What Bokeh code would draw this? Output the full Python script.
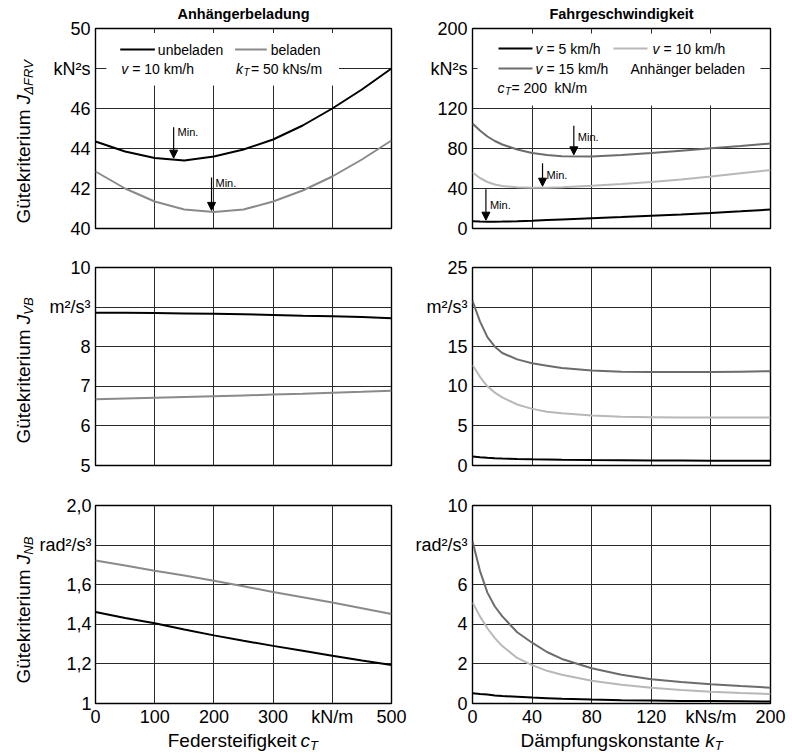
import numpy as np
from bokeh.plotting import figure
from bokeh.models import Range1d, FixedTicker, Label, Arrow, NormalHead, BoxAnnotation, Title
from bokeh.layouts import gridplot
from bokeh.embed import file_html
from bokeh.resources import INLINE

# ---------------- data ----------------
c_T = [0, 50, 100, 150, 200, 250, 300, 350, 400, 450, 500]          # kN/m
k_T = [0, 5, 10, 15, 20, 30, 40, 50, 60, 80, 100, 120, 140, 160, 180, 200]  # kNs/m

# Anhaengerbeladung (v = 10 km/h, k_T = 50 kNs/m)
J_FRV_unbeladen = [44.35, 43.85, 43.52, 43.4, 43.6, 43.95, 44.45, 45.15, 46.0, 46.95, 48.0]
J_FRV_beladen = [42.85, 42.0, 41.35, 40.95, 40.82, 40.95, 41.35, 41.9, 42.6, 43.45, 44.4]
J_VB_unbeladen = [8.86, 8.86, 8.85, 8.84, 8.83, 8.82, 8.80, 8.78, 8.77, 8.75, 8.72]
J_VB_beladen = [6.67, 6.69, 6.71, 6.73, 6.75, 6.77, 6.79, 6.81, 6.84, 6.86, 6.89]
J_NB_unbeladen = [1.462, 1.432, 1.405, 1.374, 1.344, 1.317, 1.291, 1.266, 1.241, 1.217, 1.194]
J_NB_beladen = [1.722, 1.697, 1.671, 1.646, 1.62, 1.592, 1.563, 1.537, 1.51, 1.481, 1.452]
min_c_T = [132, 196]   # minima: unbeladen, beladen

# Fahrgeschwindigkeit (Anhaenger beladen, c_T = 200 kN/m)
J_FRV_v5 = [7.2, 6.9, 6.8, 6.8, 6.9, 7.3, 7.8, 8.4, 9.0, 10.2, 11.4, 12.7, 14.0, 15.5, 17.2, 19.0]
J_FRV_v10 = [56, 50.5, 46.5, 44, 42.5, 41.2, 40.8, 40.8, 41.3, 42.8, 44.5, 46.5, 49, 52, 55.2, 58.5]
J_FRV_v15 = [105, 98, 92, 87.5, 84, 79, 75.5, 73.5, 72.3, 72, 73.5, 75.5, 77.8, 80.2, 82.5, 85]
J_VB_v5 = [1.15, 1.05, 0.98, 0.92, 0.88, 0.82, 0.78, 0.75, 0.72, 0.68, 0.66, 0.64, 0.62, 0.61, 0.6, 0.6]
J_VB_v10 = [12.7, 11.2, 10.0, 9.2, 8.6, 7.7, 7.15, 6.8, 6.6, 6.3, 6.15, 6.1, 6.05, 6.05, 6.05, 6.05]
J_VB_v15 = [20.8, 18.2, 16.2, 15.0, 14.2, 13.4, 12.9, 12.6, 12.3, 12.0, 11.85, 11.8, 11.8, 11.8, 11.85, 11.9]
J_NB_v5 = [0.52, 0.48, 0.45, 0.41, 0.38, 0.34, 0.3, 0.27, 0.24, 0.2, 0.17, 0.15, 0.13, 0.12, 0.11, 0.1]
J_NB_v10 = [5.1, 4.4, 3.8, 3.3, 2.9, 2.3, 1.94, 1.65, 1.45, 1.15, 0.95, 0.8, 0.68, 0.59, 0.53, 0.48]
J_NB_v15 = [8.2, 6.7, 5.6, 4.9, 4.4, 3.6, 3.07, 2.6, 2.25, 1.78, 1.45, 1.23, 1.08, 0.97, 0.88, 0.8]
min_k_T = [9, 47, 68]  # minima: v=5, v=10, v=15

# ticks
ticks_c = [0, 100, 200, 300, 400, 500]
labels_c = {400: "kN/m"}
ticks_k = [0, 40, 80, 120, 160, 200]
labels_k = {160: "kNs/m"}
ticks_FRV_L = [40, 42, 44, 46, 48, 50]
labels_FRV_L = {48: "kN²s"}
ticks_FRV_R = [0, 40, 80, 120, 160, 200]
labels_FRV_R = {160: "kN²s"}
ticks_VB_L = [5, 6, 7, 8, 9, 10]
labels_VB_L = {9: "m²/s³"}
ticks_VB_R = [0, 5, 10, 15, 20, 25]
labels_VB_R = {20: "m²/s³"}
ticks_NB_L = [1.0, 1.2, 1.4, 1.6, 1.8, 2.0]
labels_NB_L = {1.0: "1", 1.2: "1,2", 1.4: "1,4", 1.6: "1,6", 1.8: "rad²/s³", 2.0: "2,0"}
ticks_NB_R = [0, 2, 4, 6, 8, 10]
labels_NB_R = {8: "rad²/s³"}

# ---------------- styling ----------------
FONT = "Liberation Sans"
C_BLACK = "#000000"
C_BEL = "#8a8a8a"
C_V10 = "#b8b8b8"
C_V15 = "#6c6c6c"
GRID = "#2a2a2a"

# page geometry (page px, origin at top-left of the page)
STRIP_W = 36
LEFT = dict(fl=92, fw=299, mbl=56, mbr=19)      # figure x 36..410
RIGHT = dict(fl=472, fw=298, mbl=62, mbr=22)    # figure x 410..792
ROWS = [dict(y0=0, ft=28, fh=200, mbt=28, mbb=19),
        dict(y0=247, ft=267, fh=198, mbt=20, mbb=21),
        dict(y0=486, ft=505, fh=198, mbt=19, mbb=26)]
XT_Y0, XT_H = 729, 26


class Geo:
    def __init__(self, col, row, xr, yr):
        self.fl, self.fw = col["fl"], col["fw"]
        self.ft, self.fh = row["ft"], row["fh"]
        self.xr, self.yr = xr, yr

    def x(self, px):
        return self.xr[0] + (px - self.fl) / self.fw * (self.xr[1] - self.xr[0])

    def y(self, py):
        return self.yr[1] - (py - self.ft) / self.fh * (self.yr[1] - self.yr[0])

    def dy(self, dpx):
        return dpx / self.fh * (self.yr[1] - self.yr[0])


class PageGeo:
    def x(self, px):
        return px

    def y(self, py):
        return py


def make(col, row, xr, yr, xt, xo, yt, yo, show_x, ystandoff=5):
    w = col["mbl"] + col["fw"] + col["mbr"]
    h = row["mbt"] + row["fh"] + row["mbb"]
    p = figure(width=w, height=h, x_range=Range1d(*xr), y_range=Range1d(*yr),
               output_backend="svg", toolbar_location=None,
               min_border_left=col["mbl"], min_border_right=col["mbr"],
               min_border_top=row["mbt"], min_border_bottom=row["mbb"])
    p.outline_line_color = "black"
    p.outline_line_width = 1.4
    p.outline_line_alpha = 1.0
    p.background_fill_color = "white"
    p.border_fill_color = "white"
    p.xaxis.ticker = FixedTicker(ticks=xt)
    p.yaxis.ticker = FixedTicker(ticks=yt)
    p.yaxis.major_label_overrides = yo
    p.xaxis.major_label_overrides = xo
    for ax in (p.xaxis, p.yaxis):
        ax.major_tick_in = 0
        ax.major_tick_out = 0
        ax.minor_tick_in = 0
        ax.minor_tick_out = 0
        ax.axis_line_color = None
        ax.major_label_text_font = FONT
        ax.major_label_text_font_size = "18px"
        ax.major_label_text_color = "black"
    p.yaxis.major_label_standoff = ystandoff
    p.xaxis.major_label_standoff = 3
    if not show_x:
        p.xaxis.visible = False
    p.grid.grid_line_color = GRID
    p.grid.grid_line_width = 1
    p.grid.grid_line_alpha = 1.0
    return p, Geo(col, row, xr, yr)


def textfig(w, h, fx0, fx1, fy0, fy1):
    # the grid layout aligns this figure's frame with the plot frames of its row/column:
    # its data coordinates are set equal to page pixels of that aligned frame
    p = figure(width=w, height=h, x_range=Range1d(fx0, fx1), y_range=Range1d(fy1, fy0),
               output_backend="svg", toolbar_location=None, min_border=0,
               x_axis_type=None, y_axis_type=None)
    p.outline_line_color = None
    p.background_fill_color = "white"
    p.border_fill_color = "white"
    return p


def lab(p, g, px, py, text, size=14, style="normal", align="left", baseline="middle", angle=0.0):
    p.add_layout(Label(x=g.x(px), y=g.y(py), text=text, text_font=FONT,
                       text_font_size=f"{size}px", text_font_style=style,
                       text_align=align, text_baseline=baseline, angle=angle,
                       text_color="black"))


def seg(p, g, px0, px1, py, color):
    p.segment(x0=[g.x(px0)], y0=[g.y(py)], x1=[g.x(px1)], y1=[g.y(py)],
              line_color=color, line_width=2)


def wbox(p, g, px0, px1, py0, py1):
    p.add_layout(BoxAnnotation(left=g.x(px0), right=g.x(px1), top=g.y(py0), bottom=g.y(py1),
                               fill_color="white", fill_alpha=1.0, line_color=None,
                               level="underlay"))


def min_arrow(p, g, xm, xs, ys, len_px, label_dy_px, label_mode):
    tip = float(np.interp(xm, xs, ys)) + g.dy(1.5)
    top = tip + g.dy(len_px)
    p.add_layout(Arrow(end=NormalHead(size=8, fill_color="black", line_color="black", line_width=1),
                       x_start=xm, y_start=top, x_end=xm, y_end=tip,
                       line_color="black", line_width=1.2))
    if label_mode == "top":
        ly = top - g.dy(label_dy_px)
    else:
        ly = (top + tip) / 2 + g.dy(label_dy_px)
    px_off = 4 / g.fw * (g.xr[1] - g.xr[0])
    p.add_layout(Label(x=xm + px_off, y=ly, text="Min.", text_font=FONT, text_font_size="11px",
                       text_baseline="middle", text_align="left", text_color="black"))


def col_title(p, text):
    # small empty spacer title between the frame and the column title
    p.add_layout(Title(text=" ", text_font_size="3px", standoff=0), "above")
    p.title.text = text
    p.title.align = "center"
    p.title.vertical_align = "top"
    p.title.text_font = FONT
    p.title.text_font_size = "14.5px"
    p.title.text_font_style = "bold"
    p.title.text_color = "black"
    p.title.standoff = 0


LW = 2

# ---------------- row 1 ----------------
p1, g1 = make(LEFT, ROWS[0], (0, 500), (40, 50), ticks_c, labels_c, ticks_FRV_L, labels_FRV_L, False)
col_title(p1, "Anhängerbeladung")
wbox(p1, g1, 103, 338, 32.5, 85)
p1.line(c_T, J_FRV_unbeladen, line_color=C_BLACK, line_width=LW)
p1.line(c_T, J_FRV_beladen, line_color=C_BEL, line_width=LW)
min_arrow(p1, g1, min_c_T[0], c_T, J_FRV_unbeladen, 31, 5, "top")
min_arrow(p1, g1, min_c_T[1], c_T, J_FRV_beladen, 33, 6, "top")
seg(p1, g1, 117, 152, 49, C_BLACK)
lab(p1, g1, 155, 49, "unbeladen")
seg(p1, g1, 233, 265, 49, C_BEL)
lab(p1, g1, 269, 49, "beladen")
lab(p1, g1, 118, 68, "v", style="italic")
lab(p1, g1, 129, 68, "= 10 km/h")
lab(p1, g1, 234, 68, "k", style="italic")
lab(p1, g1, 241.5, 72, "T", size=10, style="italic")
lab(p1, g1, 249, 68, "= 50 kNs/m")

p2, g2 = make(RIGHT, ROWS[0], (0, 200), (0, 200), ticks_k, labels_k, ticks_FRV_R, labels_FRV_R, False)
col_title(p2, "Fahrgeschwindigkeit")
wbox(p2, g2, 477, 760, 33, 105)
p2.line(k_T, J_FRV_v5, line_color=C_BLACK, line_width=LW)
p2.line(k_T, J_FRV_v10, line_color=C_V10, line_width=LW)
p2.line(k_T, J_FRV_v15, line_color=C_V15, line_width=LW)
min_arrow(p2, g2, min_k_T[0], k_T, J_FRV_v5, 31, 0, "mid")
min_arrow(p2, g2, min_k_T[1], k_T, J_FRV_v10, 23, 0, "mid")
min_arrow(p2, g2, min_k_T[2], k_T, J_FRV_v15, 29, 3, "mid")
seg(p2, g2, 498, 532, 48, C_BLACK)
lab(p2, g2, 535, 48, "v", style="italic")
lab(p2, g2, 546, 48, "= 5 km/h")
seg(p2, g2, 613, 647, 48, C_V10)
lab(p2, g2, 652, 48, "v", style="italic")
lab(p2, g2, 663, 48, "= 10 km/h")
seg(p2, g2, 498, 532, 68, C_V15)
lab(p2, g2, 535, 68, "v", style="italic")
lab(p2, g2, 546, 68, "= 15 km/h")
lab(p2, g2, 630, 68, "Anhänger beladen")
lab(p2, g2, 497, 87, "c", style="italic")
lab(p2, g2, 504.5, 91, "T", size=10, style="italic")
lab(p2, g2, 511, 87, "= 200")
lab(p2, g2, 554, 87, "kN/m")

# ---------------- row 2 ----------------
p3, g3 = make(LEFT, ROWS[1], (0, 500), (5, 10), ticks_c, labels_c, ticks_VB_L, labels_VB_L, False)
p3.line(c_T, J_VB_unbeladen, line_color=C_BLACK, line_width=LW)
p3.line(c_T, J_VB_beladen, line_color=C_BEL, line_width=LW)

p4, g4 = make(RIGHT, ROWS[1], (0, 200), (0, 25), ticks_k, labels_k, ticks_VB_R, labels_VB_R, False)
p4.line(k_T, J_VB_v5, line_color=C_BLACK, line_width=LW)
p4.line(k_T, J_VB_v10, line_color=C_V10, line_width=LW)
p4.line(k_T, J_VB_v15, line_color=C_V15, line_width=LW)

# ---------------- row 3 ----------------
p5, g5 = make(LEFT, ROWS[2], (0, 500), (1, 2), ticks_c, labels_c, ticks_NB_L, labels_NB_L, True, ystandoff=4)
p5.line(c_T, J_NB_unbeladen, line_color=C_BLACK, line_width=LW)
p5.line(c_T, J_NB_beladen, line_color=C_BEL, line_width=LW)

p6, g6 = make(RIGHT, ROWS[2], (0, 200), (0, 10), ticks_k, labels_k, ticks_NB_R, labels_NB_R, True)
p6.line(k_T, J_NB_v5, line_color=C_BLACK, line_width=LW)
p6.line(k_T, J_NB_v10, line_color=C_V10, line_width=LW)
p6.line(k_T, J_NB_v15, line_color=C_V15, line_width=LW)

# ---------------- y-axis titles (strip left of the plots) ----------------
PG = PageGeo()
ROT = np.pi / 2
W_GUETE = 6.001 * 19 + 5.3
ytitle_figs = []
for row, start, sub in [(ROWS[0], 223, "ΔFRV"), (ROWS[1], 443, "VB"), (ROWS[2], 683, "NB")]:
    h = row["mbt"] + row["fh"] + row["mbb"]
    t = textfig(STRIP_W, h, 0, STRIP_W, row["ft"], row["ft"] + row["fh"])
    lab(t, PG, 23, start, "Gütekriterium", size=19, angle=ROT)
    lab(t, PG, 23, start - W_GUETE, "J", size=19, style="italic", angle=ROT)
    lab(t, PG, 28, start - W_GUETE - 9.5, sub, size=13, style="italic", angle=ROT)
    ytitle_figs.append(t)

# ---------------- x-axis titles (strip below the plots) ----------------
XM = 740
xl_w = LEFT["mbl"] + LEFT["fw"] + LEFT["mbr"]
xr_w = RIGHT["mbl"] + RIGHT["fw"] + RIGHT["mbr"]
xt1 = textfig(xl_w, XT_H, LEFT["fl"], LEFT["fl"] + LEFT["fw"], XT_Y0, XT_Y0 + XT_H)
lab(xt1, PG, 165, XM, "Federsteifigkeit", size=19)
lab(xt1, PG, 165 + 128.8 + 5.3, XM, "c", size=19, style="italic")
lab(xt1, PG, 165 + 128.8 + 5.3 + 9.5, XM + 5, "T", size=13, style="italic")
xt2 = textfig(xr_w, XT_H, RIGHT["fl"], RIGHT["fl"] + RIGHT["fw"], XT_Y0, XT_Y0 + XT_H)
lab(xt2, PG, 520, XM, "Dämpfungskonstante", size=19)
lab(xt2, PG, 520 + 179.5 + 5.3, XM, "k", size=19, style="italic")
lab(xt2, PG, 520 + 179.5 + 5.3 + 9.5, XM + 5, "T", size=13, style="italic")

grid = gridplot([[ytitle_figs[0], p1, p2],
                 [ytitle_figs[1], p3, p4],
                 [ytitle_figs[2], p5, p6],
                 [None, xt1, xt2]], toolbar_location=None)

open("out.html", "w").write(file_html(grid, INLINE))
